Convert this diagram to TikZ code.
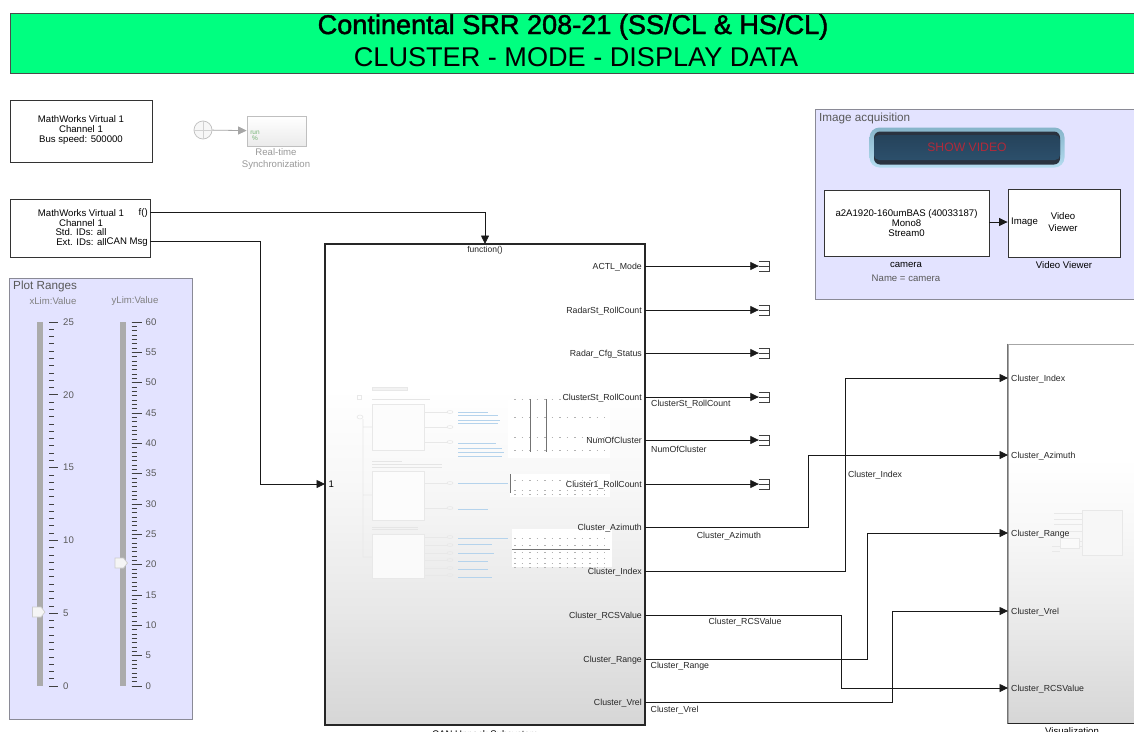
\documentclass[tikz,border=0pt]{standalone}
\usepackage{fontspec}
\setmainfont{Liberation Sans}
\newfontfamily\titlefont[FakeBold=1.6]{Liberation Sans}
\usetikzlibrary{arrows.meta,shadows}
\definecolor{headgreen}{HTML}{00FF80}
\definecolor{panelblue}{HTML}{E3E3FF}
\definecolor{paneledge}{HTML}{8A8A96}
\definecolor{btnouter}{HTML}{86B4CA}
\definecolor{btnglow}{HTML}{B5DDF0}
\definecolor{btninner}{HTML}{2C4F6B}
\definecolor{btndark}{HTML}{2A3340}
\definecolor{btnred}{HTML}{B02A3A}
\definecolor{sliderbar}{HTML}{ABABAB}
\definecolor{thumbtext}{HTML}{B5D3EC}
\newcommand{\lab}{\fontsize{9.6}{10}\selectfont}
\newcommand{\wirelab}{\fontsize{8.75}{10}\selectfont}
\pgfdeclareverticalshading{subshade}{100bp}{color(0bp)=(black!16); color(25bp)=(black!16); color(37bp)=(black!9); color(50bp)=(black!3); color(60bp)=(white); color(100bp)=(white)}
\begin{document}
\begin{tikzpicture}[x=1pt, y=-1pt, >={Triangle[length=8.5pt,width=8pt]},
        softshadow/.style={drop shadow={shadow xshift=1pt, shadow yshift=-1pt, fill=black, opacity=0.35}},
        block/.style={draw=black!80, line width=0.9pt, fill=white, align=center, inner sep=0pt, font=\lab, softshadow},
        subsys/.style={draw=black!85, line width=1.6pt, inner sep=0pt, shade, shading=subshade},
        panel/.style={draw=paneledge, line width=0.8pt, fill=panelblue, inner sep=0pt},
        caption/.style={font=\lab, inner sep=0pt, align=center},
        wiretext/.style={font=\wirelab, inner sep=0pt, text=black!85},
        port/.style={font=\wirelab, inner sep=3pt, text=black!85, yshift=-0.8pt},
        sig/.style={->, line width=0.8pt, black!90},
        termbox/.style={minimum width=10pt, minimum height=10pt, inner sep=0pt},
        faded/.style={draw=black!9, line width=0.6pt},
        lightnode/.style={draw=black!25, line width=0.7pt, fill=black!3, inner sep=0pt},
        knob/.style={draw=black!20, line width=0.7pt, fill=black!4}]
    \useasboundingbox (0,0) rectangle (1134,731);
    \fill[white] (0,0) rectangle (1134,731);

    % header
    \node[draw=black!70, line width=1pt, fill=headgreen, minimum width=1124pt, minimum height=60pt, inner sep=0pt, softshadow] (header) at (572,43) {};
    \node[font=\fontsize{27.1}{28}\titlefont, inner sep=0pt] (title) at (573,27) {Continental SRR 208-21 (SS/CL \& HS/CL)};
    \node[font=\fontsize{27.1}{28}\selectfont, inner sep=0pt] (subtitle) at (576,57) {CLUSTER - MODE - DISPLAY DATA};

    % can blocks
    \node[block, minimum width=142pt, minimum height=62pt] (cfgcan) at (81,131) {};
    \node[caption] (cfgtext) at (81,130.5) {MathWorks Virtual 1\\Channel 1\\Bus speed: 500000};
    \node[block, minimum width=140pt, minimum height=58pt] (rxcan) at (80,228) {};
    \node[caption] (rxa) at (81,213) {MathWorks Virtual 1};
    \node[caption] (rxb) at (81,223.5) {Channel 1};
    \node[caption] (rxc) at (81,232.5) {Std. IDs: all};
    \node[caption] (rxd) at (81.5,242) {Ext. IDs: all};
    \node[caption, anchor=east] (rxf) at (148,213) {f()};
    \node[caption, anchor=east] (rxmsg) at (148,242) {CAN Msg};
    \coordinate (fcall) at (150,212);
    \coordinate (msgout) at (150,241);

    % real-time sync
    \node[circle, lightnode, minimum size=18pt] (clk) at (203,130) {};
    \draw[black!18, line width=0.6pt] (clk.west) -- (clk.east) (clk.north) -- (clk.south);
    \node[lightnode, minimum width=59pt, minimum height=30pt, top color=white, bottom color=black!8] (rtsync) at (276.5,131) {};
    \node[font=\fontsize{6.5}{6.5}\selectfont, text=green!45!black!55, inner sep=0pt, align=center] (rtrun) at (255,136) {run\\\%};
    \node[caption, text=black!40] (rtcap) at (276,159) {Real-time\\[2pt]Synchronization};
    \draw[->, black!35, line width=0.8pt] (clk) -- (rtsync);

    % plot ranges
    \node[panel, minimum width=183pt, minimum height=441pt] (plotpanel) at (100.5,498.5) {};
    \node[font=\fontsize{11.7}{13}\selectfont, text=black!65, inner sep=0pt, anchor=west] (plottitle) at (13,286.5) {Plot Ranges};
    \node[caption, text=black!50] (xlimlab) at (53,301) {xLim:Value};
    \node[caption, text=black!50] (ylimlab) at (135,301) {yLim:Value};
    \fill[sliderbar] (37,322) rectangle (43,686);
    \fill[sliderbar] (119.5,322) rectangle (125.5,686);
    \foreach \i in {0,...,50} {
        \draw[black!75, line width=0.7pt] (49,{686-\i*7.28}) -- (54,{686-\i*7.28});
    }
    \foreach \val in {0,5,...,25} {
        \draw[black!75, line width=0.8pt] (49,{686-\val*14.56}) -- (58,{686-\val*14.56});
        \node[caption, text=black!65, anchor=west] (xt\val) at (63,{686-\val*14.56}) {\val};
    }
    \foreach \i in {0,...,84} {
        \draw[black!75, line width=0.7pt] (131.5,{686-\i*4.333}) -- (136.5,{686-\i*4.333});
    }
    \foreach \val in {0,5,...,60} {
        \draw[black!75, line width=0.8pt] (131.5,{686-\val*6.067}) -- (141.5,{686-\val*6.067});
        \node[caption, text=black!65, anchor=west] (yt\val) at (145.5,{686-\val*6.067}) {\val};
    }
    \draw[knob] (32.5,607) -- (41,607) -- (45,612) -- (41,617) -- (32.5,617) -- cycle;
    \draw[knob] (115,558) -- (123.5,558) -- (127.5,563) -- (123.5,568) -- (115,568) -- cycle;

    % image acquisition
    \node[panel, minimum width=320pt, minimum height=190pt] (imgpanel) at (975,204) {};
    \node[font=\fontsize{11.7}{13}\selectfont, text=black!65, inner sep=0pt, anchor=west] (imgtitle) at (819,118) {Image acquisition};
    \node[rounded corners=10pt, top color=btnouter, bottom color=btnglow, minimum width=195pt, minimum height=40pt, inner sep=0pt] (btnrim) at (967,147.5) {};
    \node[rounded corners=6pt, fill=btndark, minimum width=186pt, minimum height=33pt, inner sep=0pt] (btnedge) at (967,148) {};
    \node[rounded corners=5pt, top color=btninner!85!black, bottom color=btninner, minimum width=186pt, minimum height=25pt, inner sep=0pt, text=btnred, font=\fontsize{12.2}{13}\selectfont] (showbtn) at (967,147.5) {SHOW VIDEO};
    \node[block, minimum width=165pt, minimum height=66pt] (camera) at (906.5,223) {};
    \node[caption] (camtext) at (906.5,223) {a2A1920-160umBAS (40033187)\\Mono8\\Stream0};
    \node[block, minimum width=112pt, minimum height=68pt] (viewer) at (1064,223) {};
    \node[caption] (vvtext) at (1063,222) {Video\\[2pt]Viewer};
    \node[caption, anchor=west] (vvport) at (1011,222) {Image};
    \node[caption] (camcap) at (906,265) {camera};
    \node[caption, text=black!65] (camname) at (906,278) {Name = camera};
    \node[caption] (vvcap) at (1064,265) {Video Viewer};
    \draw[sig] (camera.east |- vvport) -- (viewer.west |- vvport);

    % unpack subsystem
    \node[subsys, minimum width=320pt, minimum height=481pt] (unpack) at (485,484.5) {};
    \node[caption] (unpackcap) at (485,735) {CAN Unpack Subsystem};
    \node[font=\fontsize{8.5}{10}\selectfont, inner sep=0pt, text=black!85] (fcn) at (485,250) {function()};
    \coordinate (fcnin) at (485,244);
    \coordinate (msgin) at (325,484);
    \node[caption, anchor=west] (inone) at (328.5,484) {1};

    % contents of the subsystem, seen small
    \fill[white] (508,400) rectangle (610,458);
    \fill[white] (510,474) rectangle (610,497);
    \fill[white] (512,529) rectangle (612,567);
    \draw[faded, fill=black!1] (372,404) rectangle (424,450);
    \draw[faded, fill=black!1] (372,471) rectangle (424,520);
    \draw[faded, fill=black!2] (372,534) rectangle (424,578);
    \draw[faded, fill=black!5] (372,387) rectangle (407,390);
    \draw[faded] (357,395) rectangle (361,399);
    \draw[faded] (360,417) ellipse (3pt and 2pt) (363,419) -- (363,557) -- (372,557) (363,427) -- (372,427) (363,495) -- (372,495);
    \foreach \yy/\wd in {399/58,461/30,464/70,467/70,527/46,529/46} {
        \draw[black!10, line width=0.6pt] (372,\yy) -- ++(\wd,0);
    }
    \foreach \yy in {412,427,442,483,508,537,545,553,560,568,575} {
        \draw[faded] (424,\yy) -- (447,\yy);
        \draw[faded] (450,\yy) ellipse (3pt and 1.5pt);
    }
    \foreach \yy/\wd in {412/30,415/40,420/42,423/40,443/38,448/44,452/46,456/44,483/50,509/30,538/50,544/34,553/36,561/30,569/30,577/34} {
        \draw[thumbtext, line width=0.6pt] (458,\yy) -- ++(\wd,0);
    }
    \foreach \yy in {399,417,437,450,480,490,494,538,545,552,558,563,567} {
        \draw[black!30, line width=0.7pt, dash pattern=on 1.5pt off 6pt] (514,\yy) -- (605,\yy);
    }
    \draw[black!55, line width=0.7pt] (530,399) -- (530,452) (546,399) -- (546,452) (510,474) -- (510,493) (512,549) -- (610,549);

    % outputs that end in terminators
    \foreach \nm/\lbl/\yy in {actl/ACTL\_Mode/266, radarst/RadarSt\_RollCount/310, radarcfg/Radar\_Cfg\_Status/353, clusterst/ClusterSt\_RollCount/397, numof/NumOfCluster/440, clusterone/Cluster1\_RollCount/484} {
        \coordinate (\nm out) at (645,\yy);
        \node[port, anchor=east] (\nm lab) at (\nm out) {\lbl};
        \node[termbox] (\nm term) at (764,\yy) {};
        \draw[sig] (\nm out) -- (\nm term.west);
        \draw[black!75, line width=0.6pt] (\nm term.north west) -- (\nm term.north east) -- (\nm term.south east) -- (\nm term.south west) (\nm term.west) -- (\nm term.east);
    }
    \node[wiretext, anchor=west] (sigst) at (651,404.5) {ClusterSt\_RollCount};
    \node[wiretext, anchor=west] (signum) at (651,449) {NumOfCluster};

    % visualization
    \node[subsys, draw=black!35, line width=1pt, minimum width=126pt, minimum height=379pt] (vis) at (1071,533.5) {};
    \draw[black!55, line width=1.2pt] (vis.north west) -- (vis.south west);
    \draw[black!85, line width=1.2pt] (vis.south west) -- (vis.south east);
    \node[caption] (viscap) at (1072,731) {Visualization};
    \draw[faded, fill=white!97!black] (1082,510) rectangle (1122,555);
    \draw[faded, fill=white!98!black] (1060,538) rectangle (1079,548);
    \draw[faded] (1054,513) -- (1082,513) (1054,519) -- (1082,519) (1054,524) -- (1082,524) (1054,531) -- (1082,531) (1079,541) -- (1082,541) (1079,546) -- (1082,546) (1052,546) -- (1060,546) (1052,551) -- (1060,551);

    \foreach \nm/\lbl/\yy in {az/Cluster\_Azimuth/527.5, idx/Cluster\_Index/571.5, rcs/Cluster\_RCSValue/615, rng/Cluster\_Range/659, vrel/Cluster\_Vrel/702} {
        \coordinate (\nm out) at (645,\yy);
        \node[port, anchor=east] (\nm lab) at (\nm out) {\lbl};
    }
    \foreach \nm/\lbl/\yy in {idx/Cluster\_Index/378, az/Cluster\_Azimuth/455, rng/Cluster\_Range/533, vrel/Cluster\_Vrel/611, rcs/Cluster\_RCSValue/688} {
        \coordinate (\nm in) at (1008,\yy);
        \node[port, anchor=west] (\nm inlab) at (\nm in) {\lbl};
    }

    % connectors
    \draw[sig] (fcall) -| (fcnin);
    \draw[sig] (msgout) -- ++(110,0) |- (msgin);
    \draw[sig] (azout) -- ++(163,0) |- (azin);
    \draw[sig] (idxout) -- ++(200.5,0) |- (idxin);
    \draw[sig] (rcsout) -- ++(196.5,0) |- (rcsin);
    \draw[sig] (rngout) -- ++(222.5,0) |- (rngin);
    \draw[sig] (vrelout) -- ++(247,0) |- (vrelin);
    \node[wiretext] (sigaz) at (729,536) {Cluster\_Azimuth};
    \node[wiretext] (sigidx) at (875,475) {Cluster\_Index};
    \node[wiretext] (sigrcs) at (745,622.5) {Cluster\_RCSValue};
    \node[wiretext, anchor=west] (sigrng) at (650.5,666.5) {Cluster\_Range};
    \node[wiretext, anchor=west] (sigvrel) at (650.5,710) {Cluster\_Vrel};
\end{tikzpicture}
\end{document}
